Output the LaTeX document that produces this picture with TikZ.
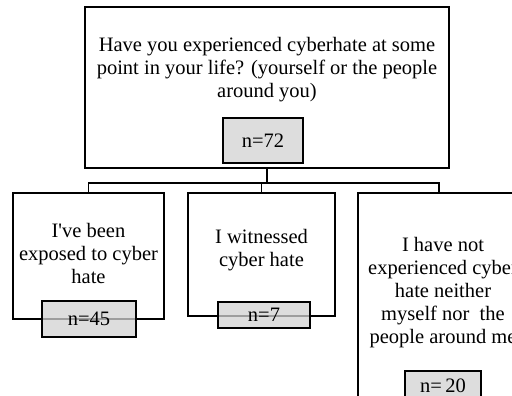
\documentclass[tikz,border=0pt]{standalone}
\usepackage{fontspec}
\setmainfont{Liberation Serif}
\tikzset{
	qbox/.style={draw,line width=1.5pt,align=center,inner sep=2pt},
	nbox/.style={draw,line width=1.5pt,fill=gray!35,fill opacity=.75,text opacity=1,align=center},
	link/.style={line width=1.8pt}
}
\begin{document}
\begin{tikzpicture}[x=1pt,y=-1pt,font=\fontsize{20.5}{23}\selectfont]
	\clip(0,0)rectangle(512,396);
	\node[qbox,minimum width=364,minimum height=161](top)at(267,87.5){};
	\node[align=center](toptxt)at(267,70){Have you experienced cyberhate at some\\point in your life? (yourself or the people\\around you)};
	\node[qbox,minimum width=151,minimum height=126](left)at(88.5,256){};
	\node[align=center](lefttxt)at(88.5,253){I\textquotesingle ve been\\exposed to cyber\\hate};
	\node[qbox,minimum width=147,minimum height=123](mid)at(261.5,254.5){};
	\node[align=center](midtxt)at(261.5,250){I witnessed\\cyber hate};
	\node[qbox,minimum width=170,minimum height=240](right)at(443,313){};
	\node[align=center](righttxt)at(443,293){I have not\\experienced cyber\\hate neither\\myself nor\ \ the\\people around me};
	\node[nbox,minimum width=80,minimum height=45](n72)at(263,140.5){n=72};
	\node[nbox,minimum width=94,minimum height=36](n45)at(89,319){n=45};
	\node[nbox,minimum width=92,minimum height=26](n7)at(264,315){n=7};
	\node[nbox,minimum width=76,minimum height=30](n20)at(443,386){n=\,20};
	\draw[link](top.south)--++(0,14)coordinate(bus);
	\draw[link](bus)-|(left.north);
	\draw[link](bus)-|(mid.north);
	\draw[link](bus)-|([xshift=-4]right.north);
\end{tikzpicture}
\end{document}
